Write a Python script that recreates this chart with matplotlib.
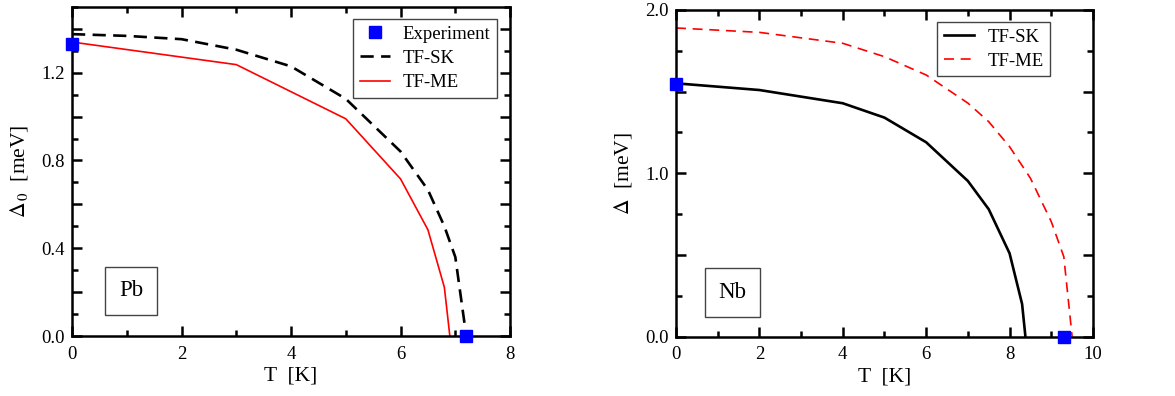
import matplotlib
matplotlib.use("Agg")
import matplotlib.pyplot as plt
from matplotlib.ticker import MultipleLocator, FuncFormatter

plt.rcParams["font.family"] = ["Liberation Serif", "DejaVu Serif"]
plt.rcParams["mathtext.fontset"] = "stix"

# Pb data (left panel)
pb_sk_T = [0, 1, 2, 3, 4, 5, 6, 6.5, 6.8, 7.0, 7.2]
pb_sk_gap = [1.376, 1.368, 1.353, 1.305, 1.229, 1.081, 0.841, 0.666, 0.50, 0.36, 0.0]
pb_me_T = [0, 3, 5, 6, 6.5, 6.8, 6.9]
pb_me_gap = [1.34, 1.237, 0.99, 0.716, 0.484, 0.222, 0.0]
pb_exp_T = [0, 7.2]
pb_exp_gap = [1.33, 0.0]

# Nb data (right panel)
nb_sk_T = [0, 2, 4, 5, 6, 7, 7.5, 8, 8.3, 8.38]
nb_sk_gap = [1.551, 1.51, 1.429, 1.341, 1.19, 0.953, 0.78, 0.51, 0.2, 0.0]
nb_me_T = [0, 2, 4, 5, 6, 7, 7.5, 8, 8.5, 9, 9.3, 9.5]
nb_me_gap = [1.89, 1.863, 1.796, 1.714, 1.602, 1.43, 1.316, 1.163, 0.97, 0.704, 0.49, 0.0]
nb_exp_T = [0, 9.3]
nb_exp_gap = [1.545, 0.0]

TICK_FS = 13.5
LABEL_FS = 15.5
LEG_FS = 13.5
SPINE_LW = 1.8
BLUE = "#0000ff"


def style_axes(ax, xmajor, xminor, ymajor, yminor, label_every):
    for s in ax.spines.values():
        s.set_linewidth(SPINE_LW)
    ax.xaxis.set_major_locator(MultipleLocator(xmajor))
    ax.xaxis.set_minor_locator(MultipleLocator(xminor))
    ax.yaxis.set_major_locator(MultipleLocator(ymajor))
    ax.yaxis.set_minor_locator(MultipleLocator(yminor))
    ax.yaxis.set_major_formatter(FuncFormatter(
        lambda v, p: f"{v:.1f}" if abs(v / label_every - round(v / label_every)) < 1e-6 else ""))
    ax.tick_params(which="both", direction="in", top=True, right=True,
                   labelsize=TICK_FS, width=SPINE_LW)
    ax.tick_params(axis="x", pad=7)
    ax.tick_params(axis="y", pad=5)
    ax.tick_params(which="major", length=7)
    ax.tick_params(which="minor", length=4)


def add_legend(ax, anchor):
    leg = ax.legend(loc="upper right", fontsize=LEG_FS, fancybox=False, framealpha=1,
                    edgecolor="#444444", handlelength=1.6, handletextpad=0.7,
                    borderpad=0.35, labelspacing=0.38, borderaxespad=0,
                    bbox_to_anchor=anchor)
    leg.get_frame().set_linewidth(1.0)
    return leg


def add_tag(ax, text, x, y):
    ax.text(x, y, text, transform=ax.transAxes, fontsize=16.5,
            ha="center", va="center",
            bbox=dict(boxstyle="square,pad=0.6", fc="white", ec="#444444", lw=1.0))


fig = plt.figure(figsize=(11.75, 3.96), dpi=100)

# ---- left panel: Pb
ax1 = fig.add_axes([0.0613, 0.1515, 0.3728, 0.831])
ax1.plot(pb_exp_T, pb_exp_gap, "s", color=BLUE, markersize=8.5, clip_on=False,
         zorder=5, label="Experiment")
ax1.plot(pb_sk_T, pb_sk_gap, color="black", lw=1.9, dashes=(5, 2.8), label="TF-SK")
ax1.plot(pb_me_T, pb_me_gap, color="red", lw=1.2, label="TF-ME")
ax1.set_xlim(0, 8)
ax1.set_ylim(0, 1.5)
style_axes(ax1, 2, 1, 0.2, 0.1, 0.4)
ax1.set_xlabel("T  [K]", fontsize=LABEL_FS, labelpad=3)
ax1.set_ylabel(r"$\Delta_{\,0}$  [meV]", fontsize=LABEL_FS, labelpad=8)
add_legend(ax1, ((497 - 72) / 438, 1 - 12 / 329))
add_tag(ax1, "Pb", 0.135, 0.137)

# ---- right panel: Nb
ax2 = fig.add_axes([0.5753, 0.1498, 0.3549, 0.825])
ax2.plot(nb_sk_T, nb_sk_gap, color="black", lw=1.9, label="TF-SK")
ax2.plot(nb_me_T, nb_me_gap, color="red", lw=1.2, dashes=(6, 4), label="TF-ME")
ax2.plot(nb_exp_T, nb_exp_gap, "s", color=BLUE, markersize=8.5, clip_on=False, zorder=5)
ax2.set_xlim(0, 10)
ax2.set_ylim(0, 2.0)
style_axes(ax2, 2, 1, 0.5, 0.25, 1.0)
ax2.set_xlabel("T  [K]", fontsize=LABEL_FS, labelpad=3)
ax2.set_ylabel(r"$\Delta$  [meV]", fontsize=LABEL_FS, labelpad=8)
add_legend(ax2, ((1050 - 676) / 417, 1 - 12 / 326.7))
add_tag(ax2, "Nb", 0.1355, 0.135)

fig.savefig("out.png", dpi=100)
